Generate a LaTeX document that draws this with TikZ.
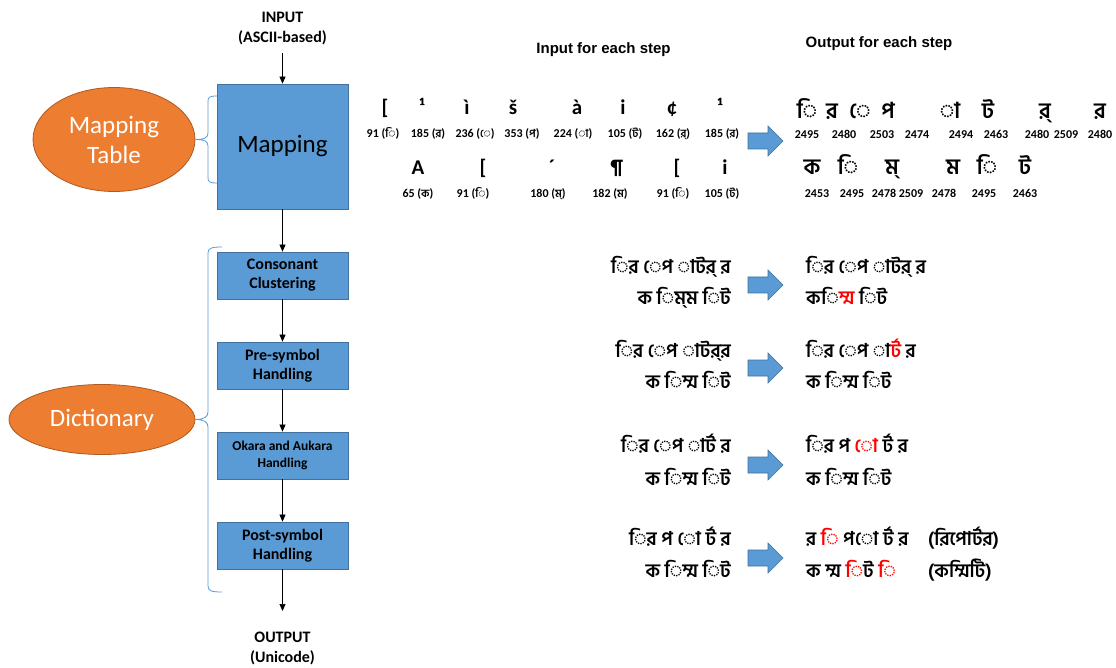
\documentclass[tikz,border=0pt]{standalone}
\usepackage{fontspec}
\setmainfont{Carlito}
\newfontfamily\arialf{Liberation Sans}
\newfontfamily\bn[Script=Bengali]{Hind Siliguri}
\usetikzlibrary{arrows.meta,shapes.geometric}

\definecolor{boxblue}{HTML}{5B9BD5}
\definecolor{boxedge}{HTML}{41719C}
\definecolor{ovalorange}{HTML}{ED7D31}
\definecolor{ovaledge}{HTML}{AE5A21}
\definecolor{hlred}{HTML}{FF0000}

\newcommand\setfs[2]{\fontsize{#1}{#2}\selectfont}
\newcommand\red[1]{\textcolor{hlred}{#1}}
\newcommand\brk{\kern0.5pt}
\newcommand\bnb{\bn\bfseries}

\begin{document}
\begin{tikzpicture}[x=1pt,y=-1pt,
  stepbox/.style={draw=boxedge, fill=boxblue, line width=0.8pt,
    minimum width=131pt, minimum height=47pt, inner sep=0pt,
    align=center, font=\setfs{16}{19}\bfseries},
  oval/.style={ellipse, draw=ovaledge, fill=ovalorange, line width=0.8pt,
    text=white, inner sep=0pt, align=center, font=\setfs{25}{30}},
  flowarrow/.style={-{Triangle[length=7pt,width=6pt]}, line width=0.7pt},
  bracket/.style={draw=boxblue, line width=0.8pt},
  ioname/.style={align=center, font=\setfs{16}{20}\bfseries},
  heading/.style={font=\arialf\bfseries\setfs{15}{18}},
  asc/.style={anchor=base, inner sep=0pt, font=\setfs{21}{24}\bfseries},
  code/.style={anchor=base, inner sep=0pt, font=\setfs{12}{14}\bfseries},
  glyph/.style={anchor=base, inner sep=0pt, font=\bnb\setfs{22}{26}},
  wordin/.style={anchor=base east, inner sep=0pt, font=\bnb\setfs{19}{22}},
  wordout/.style={anchor=base west, inner sep=0pt, font=\bnb\setfs{19}{22}},
  blockarrow/.pic={\path[fill=boxblue, draw=boxedge, line width=0.6pt]
    (-17.5,-8) -- (2.5,-8) -- (2.5,-15) -- (17.5,0) -- (2.5,15)
    -- (2.5,8) -- (-17.5,8) -- cycle;}
]
\fill[white] (0,0) rectangle (1116,668);
\useasboundingbox (0,0) rectangle (1116,668);

% ---- pipeline on the left ----
\node[ioname] (in) at (282.5,29) {INPUT\\(ASCII-based)};
\node[stepbox, minimum height=125pt, font=\setfs{25}{30}] (map) at (282.5,146.5) {Mapping};
\node[stepbox] (cons) at (282.5,275.5) {Consonant\\Clustering};
\node[stepbox] (pre)  at (282.5,365.5) {Pre-symbol\\Handling};
\node[stepbox, font=\setfs{13.5}{17}\bfseries] (oka) at (282.5,455.5) {Okara and Aukara\\Handling};
\node[stepbox] (post) at (282.5,545.5) {Post-symbol\\Handling};
\coordinate (outtip) at (282.5,611);
\node[ioname] (out) at (282.5,648) {OUTPUT\\(Unicode)};

\draw[flowarrow] (282.5,53) -- (map.north);
\draw[flowarrow] (map) -- (cons);
\draw[flowarrow] (cons) -- (pre);
\draw[flowarrow] (pre) -- (oka);
\draw[flowarrow] (oka) -- (post);
\draw[flowarrow] (post) -- (outtip);

% ---- resources and their braces ----
\node[oval, minimum width=162pt, minimum height=104pt] (mtab) at (114,139.5) {Mapping\\Table};
\node[oval, minimum width=186pt, minimum height=70pt] (dict) at (102,419.5) {Dictionary};
\draw[bracket] (217,96) .. controls (210,96) and (208,97) .. (208,101) -- (208,133)
  .. controls (208,138) and (204,139.5) .. (mtab.east)
  .. controls (204,139.5) and (208,141) .. (208,146) -- (208,178)
  .. controls (208,182) and (210,183) .. (217,183);
\draw[bracket] (222,247) .. controls (212,247) and (208,248) .. (208,253) -- (208,412)
  .. controls (208,417) and (204,419.5) .. (dict.east)
  .. controls (204,419.5) and (208,422) .. (208,427) -- (208,586)
  .. controls (208,591) and (212,592) .. (222,592);

% ---- column headings ----
\node[heading] (hin)  at (603.5,50) {Input for each step};
\node[heading] (hout) at (879,44) {Output for each step};

% ---- mapping: ASCII input with codes ----
\foreach \x/\c [count=\i] in {385/{[},422/¹,467/ì,513/š,577/à,623/i,672/¢,720/¹}
  \node[asc] (a1-\i) at (\x,115) {\c};
\foreach \x/\n/\b [count=\i] in {383/91/ি,428/185/র,475/236/ে,522/353/প,
    573/224/া,625/105/ট,673/162/র্,722/185/র}
  \node[code] (c1-\i) at (\x,138) {\n\ ({\bnb\setfs{11}{13}\b})};
\foreach \x/\c [count=\i] in {418/A,483/{[},552/´,617/¶,677/{[},725/i}
  \node[asc] (a2-\i) at (\x,175) {\c};
\foreach \x/\n/\b [count=\i] in {418/65/ক,473/91/ি,548/180/ম্,610/182/ম,
    673/91/ি,722/105/ট}
  \node[code] (c2-\i) at (\x,198) {\n\ ({\bnb\setfs{11}{13}\b})};

% ---- mapping: Unicode output with code points ----
\foreach \x/\c [count=\i] in {807/ি,832/র,860/ে,888/প,950/া,988/ট,1045/র্,1100/র}
  \node[glyph] (g1-\i) at (\x,119) {\c};
\foreach \x/\n [count=\i] in {807/2495,844/2480,882/2503,917/2474,961/2494,996/2463,
    1037/2480,1066/2509,1100/2480}
  \node[code] (u1-\i) at (\x,139) {\n};
\foreach \x/\c [count=\i] in {812/ক,848/ি,892/ম্,953/ম,987/ি,1025/ট}
  \node[glyph] (g2-\i) at (\x,175) {\c};
\foreach \x/\n [count=\i] in {817/2453,852/2495,884/2478,911/2509,944/2478,984/2495,1025/2463}
  \node[code] (u2-\i) at (\x,198) {\n};

% ---- transition arrows ----
\pic (ba1) at (765.5,141) {blockarrow};
\pic (ba2) at (765.5,285) {blockarrow};
\pic (ba3) at (765.5,368) {blockarrow};
\pic (ba4) at (765.5,465) {blockarrow};
\pic (ba5) at (765.5,558) {blockarrow};

% ---- consonant clustering ----
\node[wordin]  (i1a) at (731,274) {ির েপ াটর্ র};
\node[wordin]  (i1b) at (731,305) {ক িম্^^^^200cম িট};
\node[wordout] (o1a) at (806,274) {ির েপ াটর্ র};
\node[wordout] (o1b) at (806,305) {ক\brk ি\red{ম্ম} িট};

% ---- pre-symbol handling ----
\node[wordin]  (i2a) at (731,357) {ির েপ াটর্^^^^200cর};
\node[wordin]  (i2b) at (731,388) {ক িম্ম িট};
\node[wordout] (o2a) at (806,357) {ির েপ া\red{র্ট} র};
\node[wordout] (o2b) at (806,388) {ক িম্ম িট};

% ---- okara and aukara handling ----
\node[wordin]  (i3a) at (731,452) {ির েপ ার্ট র};
\node[wordin]  (i3b) at (731,485) {ক িম্ম িট};
\node[wordout] (o3a) at (806,452) {ির প \red{ো} র্ট র};
\node[wordout] (o3b) at (806,485) {ক িম্ম িট};

% ---- post-symbol handling ----
\node[wordin]  (i4a) at (731,545) {ির প ো র্ট র};
\node[wordin]  (i4b) at (731,577) {ক িম্ম িট};
\node[wordout] (o4a) at (806,545) {র \red{ি} প\brk ো র্ট র};
\node[wordout] (o4b) at (806,577) {ক ম্ম \red{ি}ট \red{ি}};
\node[wordout] (w4a) at (928,545) {(রিপোর্টর)};
\node[wordout] (w4b) at (928,577) {(কম্মিটি)};
\end{tikzpicture}
\end{document}
